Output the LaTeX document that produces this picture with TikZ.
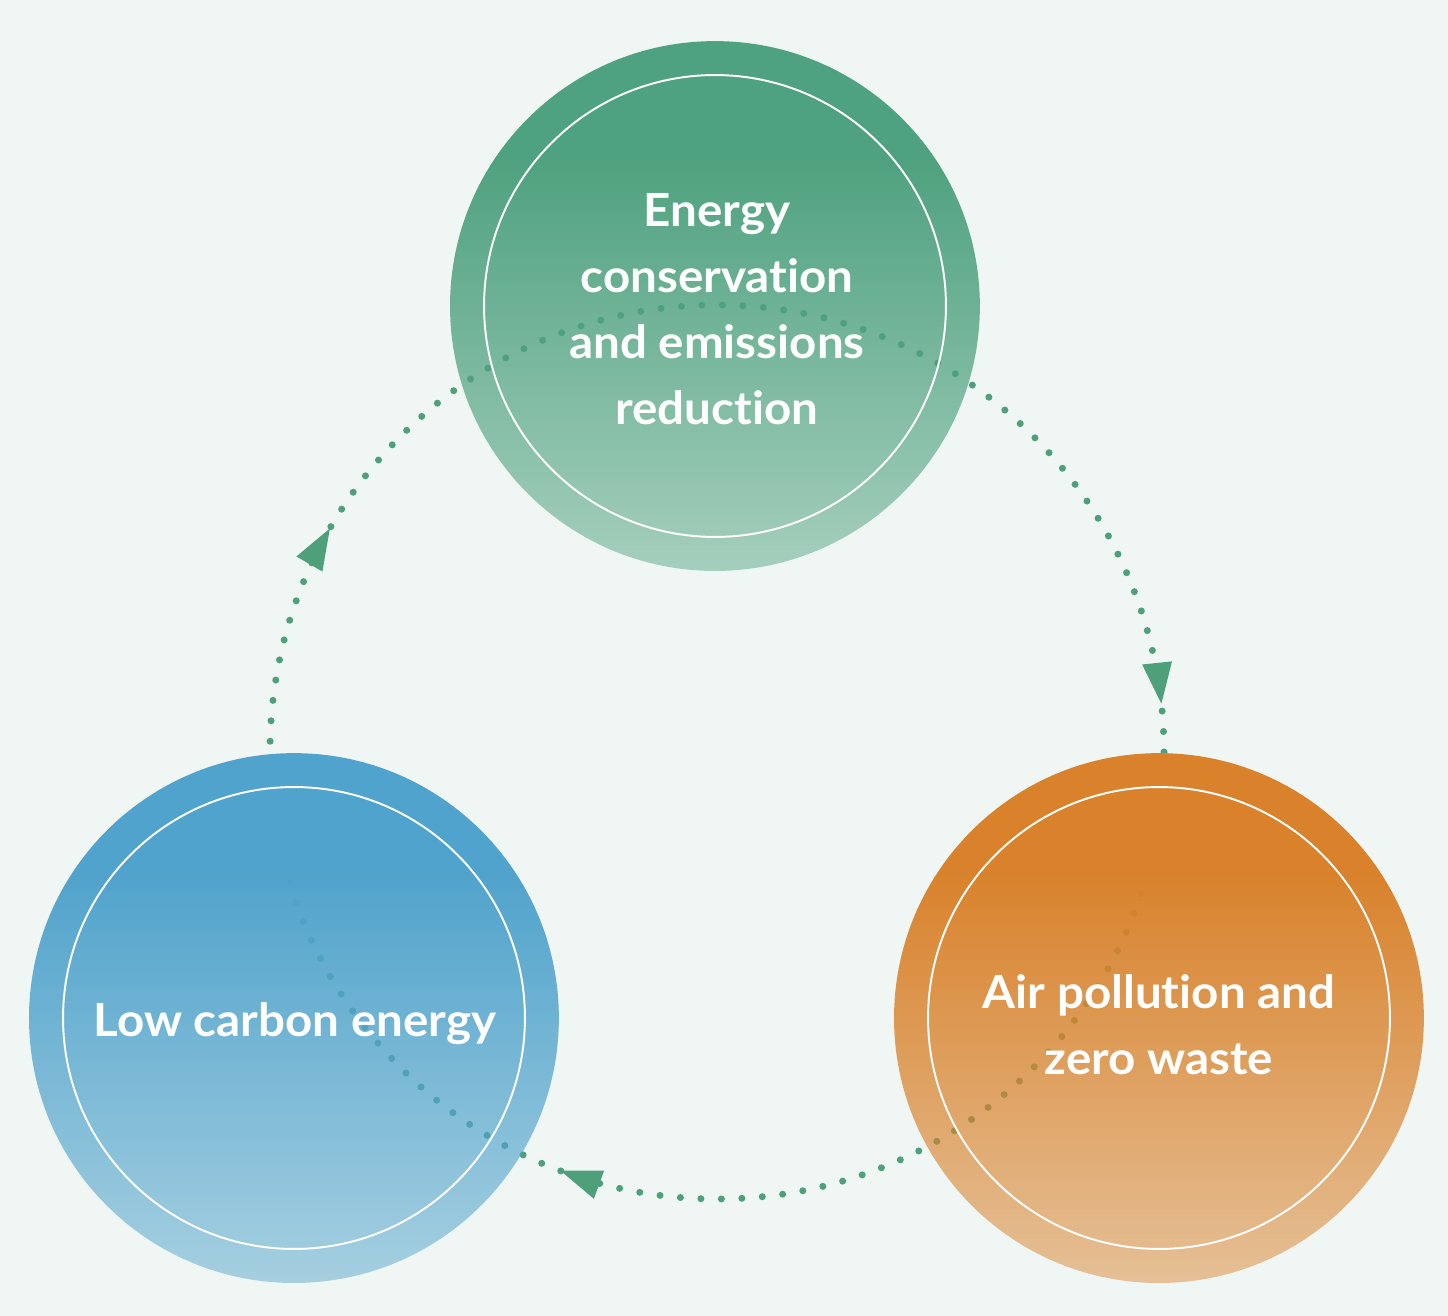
\documentclass[tikz,border=0pt]{standalone}
\usepackage{fontspec}
\setmainfont{Lato}[Ligatures=NoCommon, FakeStretch=1.04]
\usetikzlibrary{fadings}
\definecolor{bg}{HTML}{F0F6F3}
\definecolor{cgreen}{HTML}{4FA27F}
\definecolor{cblue}{HTML}{50A3CC}
\definecolor{corange}{HTML}{D9822B}
\definecolor{dotgreen}{HTML}{4DA07A}
\pgfdeclareverticalshading{fadeshade}{100bp}{color(0bp)=(transparent!54); color(25bp)=(transparent!54); color(64bp)=(transparent!0); color(100bp)=(transparent!0)}
\tikzfading[name=fadedown, shading=fadeshade]
\begin{document}
\begin{tikzpicture}[x=0.02cm,y=0.02cm,
  outerc/.style={circle, minimum size=10.6cm, inner sep=0pt, fill=#1, path fading=fadedown},
  innerc/.style={circle, minimum size=9.24cm, inner sep=0pt, draw=white, line width=1.1pt},
  lbl/.style={text=white, font=\fontsize{26}{37.5}\selectfont\bfseries, align=center},
  dotline/.style={draw=dotgreen, line width=0.14cm, line cap=round, dash pattern=on 0pt off 0.41cm},
  arrowhead/.style={fill=dotgreen}]
\fill[bg] (0,0) rectangle (1448,1316);
\useasboundingbox (0,0) rectangle (1448,1316);
% cycle
\coordinate (C) at (717,564);
\draw[dotline] (C) circle (447);
\path (C) ++(150:447) coordinate (t1);
\path (C) ++(6.2:447) coordinate (t2);
\path (C) ++(249.5:447) coordinate (t3);
\fill[arrowhead, shift={(t1)}, rotate=60] (0,0) -- (-41,15) -- (-41,-15) -- cycle;
\fill[arrowhead, shift={(t2)}, rotate=-84] (0,0) -- (-41,15) -- (-41,-15) -- cycle;
\fill[arrowhead, shift={(t3)}, rotate=160] (0,0) -- (-41,15) -- (-41,-15) -- cycle;
% circles
\node[outerc=cgreen] (top) at (715,1010) {};
\node[innerc] (topin) at (top) {};
\node[lbl] (toplbl) at (717,1007) {Energy\\conservation\\and emissions\\reduction};
\node[outerc=cblue] (left) at (294,298) {};
\node[innerc] (leftin) at (left) {};
\node[lbl] (leftlbl) at (295,292) {Low carbon energy};
\node[outerc=corange] (right) at (1159,298) {};
\node[innerc] (rightin) at (right) {};
\node[lbl] (rightlbl) at (1159,291) {Air pollution and\\zero waste};
\end{tikzpicture}
\end{document}
